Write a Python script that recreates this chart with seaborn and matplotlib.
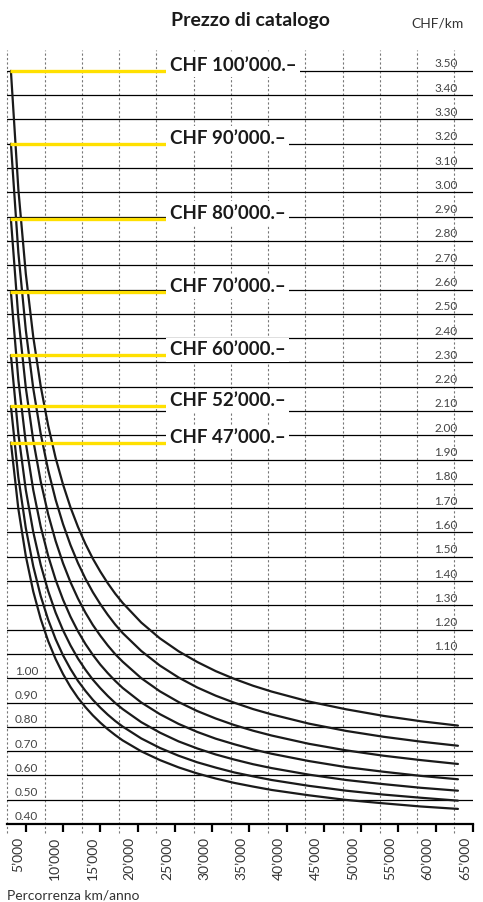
import pandas as pd
import matplotlib.pyplot as plt
import matplotlib.transforms as mtransforms
import seaborn as sns

# values (CHF/km at given km/anno)
km = [5000, 6000, 7000, 8000, 9000, 10000, 11000, 12000, 13000, 14000, 15000,
      16000, 17000, 18000, 19000, 20000, 22500, 25000, 27500, 30000, 32500,
      35000, 37500, 40000, 45000, 50000, 55000, 60000, 65000]

chf_100000 = [3.500, 3.013, 2.665, 2.405, 2.202, 2.040, 1.907, 1.797, 1.703, 1.623,
              1.553, 1.492, 1.439, 1.391, 1.348, 1.310, 1.229, 1.164, 1.111, 1.067,
              1.029, 0.997, 0.969, 0.945, 0.904, 0.872, 0.845, 0.823, 0.805]
chf_90000 = [3.200, 2.752, 2.433, 2.193, 2.006, 1.857, 1.735, 1.634, 1.548, 1.474,
             1.410, 1.354, 1.305, 1.261, 1.221, 1.186, 1.112, 1.052, 1.003, 0.962,
             0.928, 0.899, 0.873, 0.851, 0.813, 0.783, 0.759, 0.739, 0.722]
chf_80000 = [2.890, 2.485, 2.196, 1.979, 1.810, 1.675, 1.565, 1.473, 1.395, 1.328,
             1.270, 1.219, 1.175, 1.135, 1.099, 1.068, 1.000, 0.946, 0.902, 0.865,
             0.834, 0.807, 0.784, 0.764, 0.730, 0.703, 0.681, 0.663, 0.647]
chf_70000 = [2.590, 2.228, 1.969, 1.775, 1.624, 1.504, 1.405, 1.323, 1.253, 1.193,
             1.141, 1.096, 1.056, 1.021, 0.989, 0.960, 0.900, 0.852, 0.812, 0.779,
             0.751, 0.728, 0.707, 0.689, 0.659, 0.634, 0.615, 0.598, 0.584]
chf_60000 = [2.330, 2.007, 1.775, 1.602, 1.467, 1.359, 1.270, 1.197, 1.135, 1.081,
             1.035, 0.994, 0.959, 0.927, 0.898, 0.873, 0.819, 0.776, 0.740, 0.711,
             0.686, 0.665, 0.646, 0.630, 0.603, 0.581, 0.564, 0.549, 0.537]
chf_52000 = [2.120, 1.827, 1.618, 1.461, 1.338, 1.241, 1.161, 1.094, 1.038, 0.989,
             0.948, 0.911, 0.879, 0.850, 0.824, 0.801, 0.752, 0.713, 0.681, 0.654,
             0.632, 0.612, 0.596, 0.581, 0.557, 0.537, 0.521, 0.508, 0.496]
chf_47000 = [1.970, 1.697, 1.503, 1.357, 1.244, 1.153, 1.079, 1.017, 0.964, 0.919,
             0.881, 0.847, 0.817, 0.790, 0.766, 0.744, 0.699, 0.663, 0.633, 0.608,
             0.587, 0.569, 0.554, 0.540, 0.518, 0.499, 0.485, 0.472, 0.462]

price_labels = ["CHF 100’000.–", "CHF 90’000.–", "CHF 80’000.–", "CHF 70’000.–",
                "CHF 60’000.–", "CHF 52’000.–", "CHF 47’000.–"]
series = [chf_100000, chf_90000, chf_80000, chf_70000, chf_60000, chf_52000, chf_47000]

x_ticks = [5000, 10000, 15000, 20000, 25000, 30000, 35000,
           40000, 45000, 50000, 55000, 60000, 65000]
x_tick_labels = ["5’000", "10’000", "15’000", "20’000", "25’000", "30’000", "35’000",
                 "40’000", "45’000", "50’000", "55’000", "60’000", "65’000"]
y_values = [round(0.4 + 0.1 * i, 2) for i in range(32)]  # 0.40 ... 3.50

df = pd.concat([pd.DataFrame({"km": km, "chf_km": s, "prezzo": p})
                for s, p in zip(series, price_labels)])

sns.set_theme(style="white")
plt.rcParams['font.family'] = ['Lato', 'DejaVu Sans']

fig = plt.figure(figsize=(4.83, 9.02), dpi=100)
ax = fig.add_axes([0.0151, 0.0865, 0.9642, 0.8581])

sns.lineplot(data=df, x="km", y="chf_km", hue="prezzo", palette=["#1a1a1a"] * 7,
             estimator=None, linewidth=1.6, legend=False, ax=ax, zorder=3)

ax.set_xlim(4516, 65392)
ax.set_ylim(0.40, 3.586)

# horizontal rules
for v in y_values[1:]:
    ax.axhline(v, color="black", lw=0.9, zorder=1)

# dashed verticals, slightly left of the nominal km value, running below the axis
vtrans = mtransforms.blended_transform_factory(ax.transData, ax.transAxes)
for x in x_ticks:
    ax.plot([x - 480, x - 480], [-0.012, 1], transform=vtrans, clip_on=False,
            color="#777777", lw=0.8, ls=(0, (2, 2)), zorder=0)

# solid ticks between the dashed lines
ax.set_xticks([x + 2020 for x in x_ticks])
ax.tick_params(axis="x", length=6, width=1.6, color="black", labelbottom=False, bottom=True)
ax.set_yticks([])
ax.set_xlabel("")
ax.set_ylabel("")
for side in ["top", "left", "right"]:
    ax.spines[side].set_visible(False)
ax.spines["bottom"].set_linewidth(1.6)
ax.spines["bottom"].set_color("black")

lab_trans = vtrans + mtransforms.ScaledTranslation(0.07, -0.13, fig.dpi_scale_trans)
for x, lab in zip(x_ticks, x_tick_labels):
    ax.text(x, 0, lab, transform=lab_trans, rotation=90, ha="center", va="top",
            fontsize=10, color="#333333")

# CHF/km values, left column up to 1.00, right column above
ytrans = mtransforms.blended_transform_factory(ax.transAxes, ax.transData) + \
    mtransforms.ScaledTranslation(0, 0.035, fig.dpi_scale_trans)
for v in y_values:
    xpos = 0.041 if v <= 1.0 else 0.942
    ax.text(xpos, v, f"{v:.2f}", transform=ytrans, ha="center", va="baseline",
            fontsize=8.5, color="#444444")

# yellow price markers and labels
starts = [s[0] for s in series]
ax.hlines(starts, 4870, 26000, color="#FFE000", lw=2.4, zorder=4)
for s, lab in zip(starts, price_labels):
    ax.text(26300, s, lab, ha="left", va="baseline", fontsize=13.5, fontweight="bold",
            color="#1a1a1a", zorder=5,
            bbox=dict(facecolor="white", edgecolor="none", pad=2.5))

fig.text(250 / 483, 1 - 26 / 902, "Prezzo di catalogo", ha="center", va="baseline",
         fontsize=14, fontweight="bold", color="#1a1a1a")
fig.text(437 / 483, 1 - 27 / 902, "CHF/km", ha="center", va="baseline",
         fontsize=10, color="#333333")
fig.text(7 / 483, 1 - 900 / 902, "Percorrenza km/anno", ha="left", va="baseline",
         fontsize=10, color="#333333")

fig.savefig("out.png", dpi=100)
